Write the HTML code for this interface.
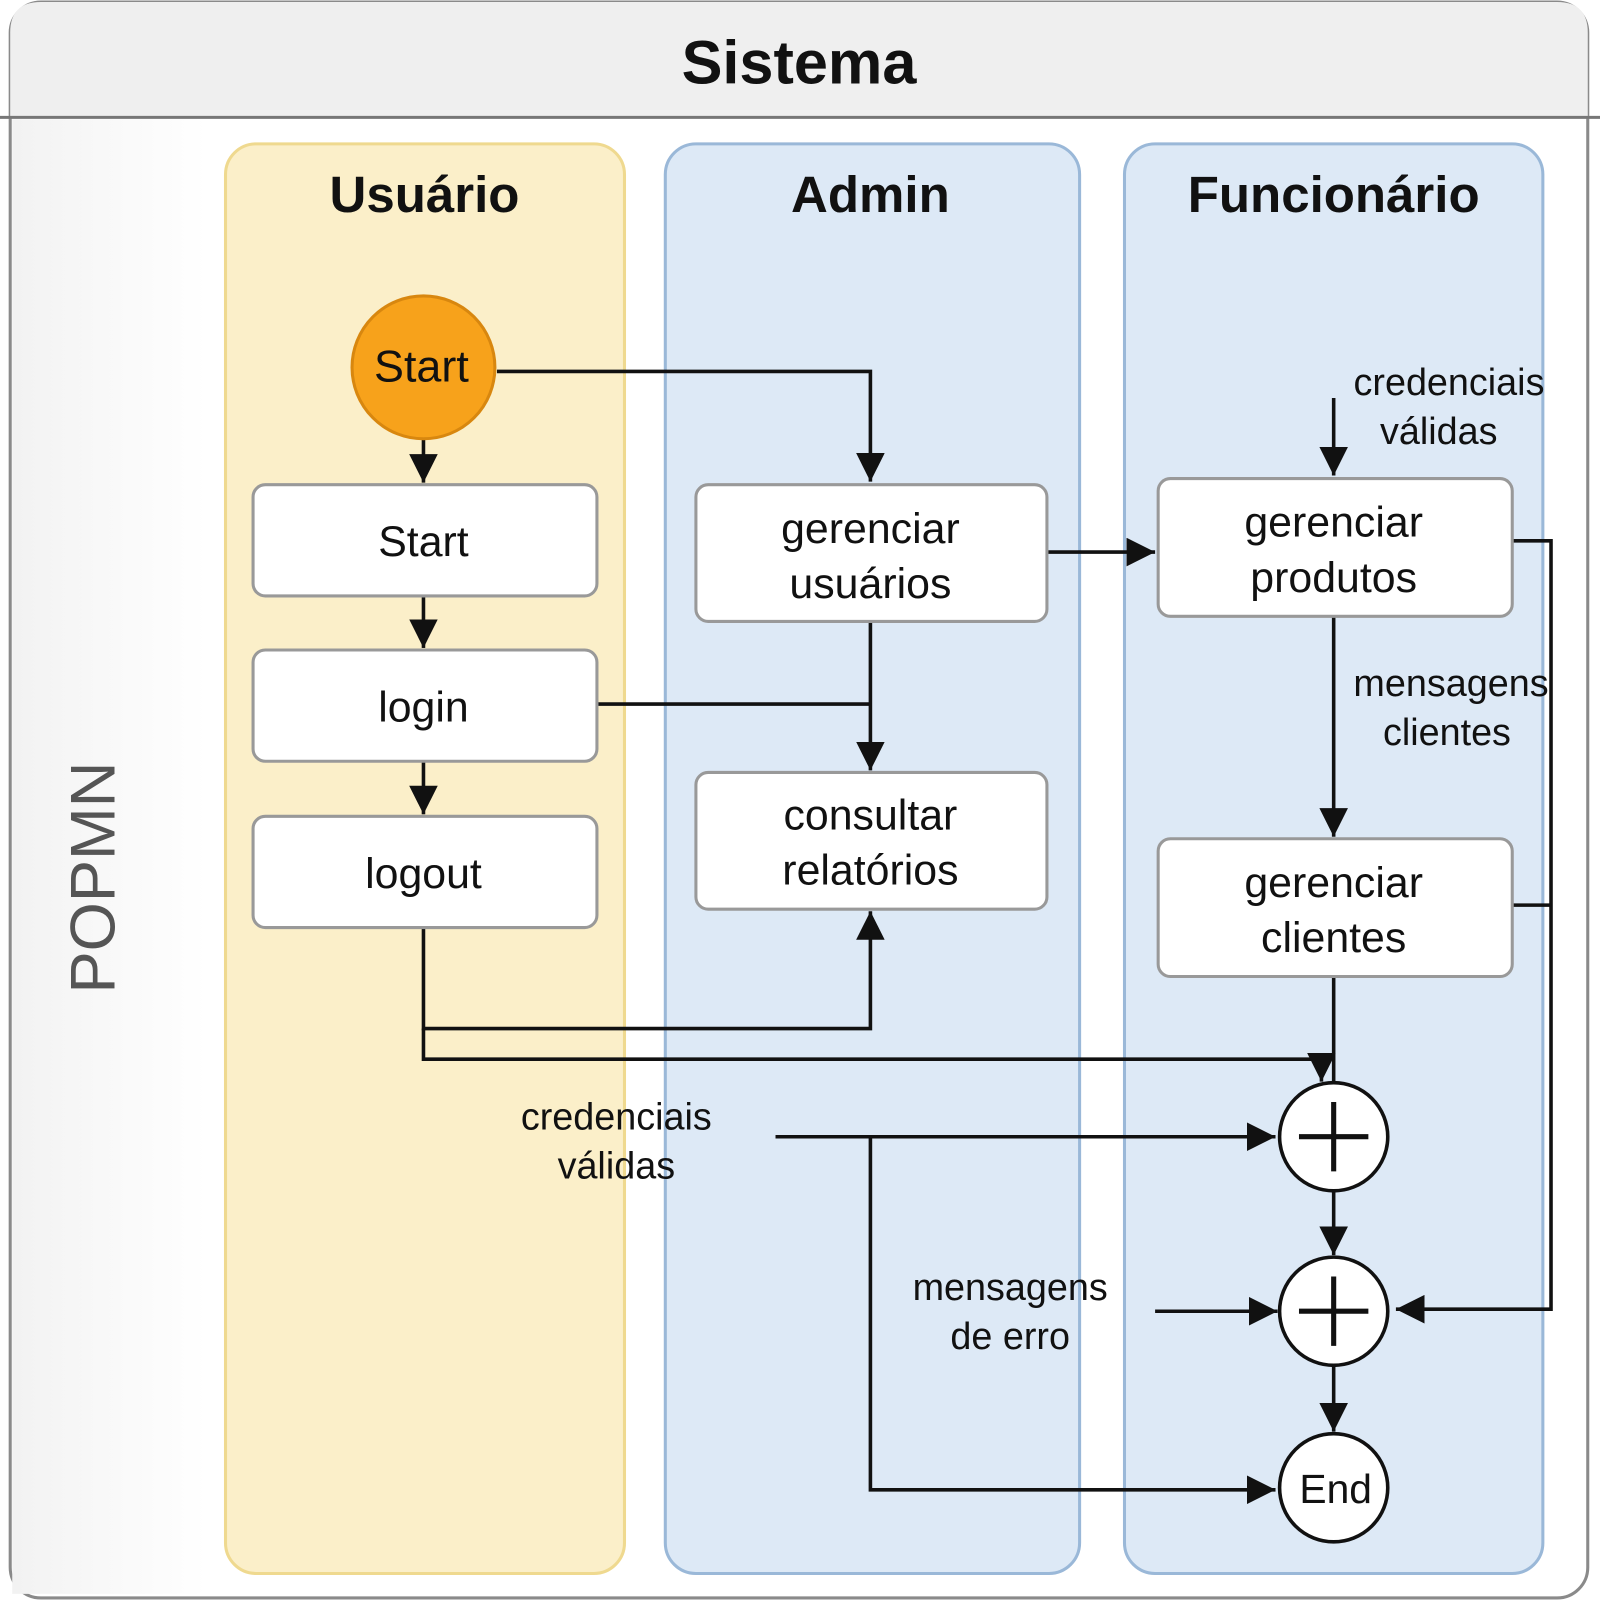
<!DOCTYPE html>
<html><head><meta charset="utf-8"><style>
html,body{margin:0;padding:0;background:#fff;}
svg{display:block;}
text{font-family:"Liberation Sans",sans-serif;}
</style></head><body>
<svg width="1600" height="1600" viewBox="0 0 1568 1568" xmlns="http://www.w3.org/2000/svg">
<defs>
<marker id="a" viewBox="0 0 10 10" refX="9" refY="5" markerWidth="9" markerHeight="9" markerUnits="userSpaceOnUse" orient="auto">
</marker>
<marker id="ah" viewBox="0 0 10 10" refX="10" refY="5" markerWidth="28" markerHeight="28" markerUnits="userSpaceOnUse" orient="auto"><path d="M0,0 L10,5 L0,10 z" fill="#111"/></marker>
<linearGradient id="lg" x1="0" x2="1"><stop offset="0" stop-color="#f2f2f2"/><stop offset="1" stop-color="#fff"/></linearGradient>
</defs>
<rect x="0" y="0" width="1568" height="1568" fill="#fff"/>
<rect x="10" y="2" width="1546" height="1564" rx="30" fill="#fff" stroke="#8a8a8a" stroke-width="3"/>
<path d="M10,115 L10,32 Q10,2 40,2 L1526,2 Q1556,2 1556,32 L1556,115 Z" fill="#efefef"/>
<line x1="0" y1="115" x2="1568" y2="115" stroke="#777" stroke-width="3"/>
<text x="783" y="82" font-size="60" font-weight="bold" text-anchor="middle" fill="#111">Sistema</text>
<rect x="12" y="117" width="190" height="1445" fill="url(#lg)"/>
<text transform="translate(112,860) rotate(-90)" font-size="62" text-anchor="middle" fill="#555">POPMN</text>

<rect x="221" y="141" width="391" height="1401" rx="30" fill="#fbefc9" stroke="#efd98f" stroke-width="3"/>
<rect x="652" y="141" width="406" height="1401" rx="30" fill="#dde9f6" stroke="#9ab8d8" stroke-width="3"/>
<rect x="1102" y="141" width="410" height="1401" rx="30" fill="#dde9f6" stroke="#9ab8d8" stroke-width="3"/>
<text x="416" y="208" font-size="50" font-weight="bold" text-anchor="middle" fill="#111">Usuário</text>
<text x="853" y="208" font-size="50" font-weight="bold" text-anchor="middle" fill="#111">Admin</text>
<text x="1307" y="208" font-size="50" font-weight="bold" text-anchor="middle" fill="#111">Funcionário</text>

<g stroke="#111" stroke-width="3.5" fill="none">
<path d="M487,364 L853,364 L853,472" marker-end="url(#ah)"/>
<path d="M415,430 L415,473" marker-end="url(#ah)"/>
<path d="M415,584 L415,635" marker-end="url(#ah)"/>
<path d="M415,746 L415,798" marker-end="url(#ah)"/>
<path d="M585,690 L853,690"/>
<path d="M853,609 L853,755" marker-end="url(#ah)"/>
<path d="M1026,541 L1132,541" marker-end="url(#ah)"/>
<path d="M1307,390 L1307,466" marker-end="url(#ah)"/>
<path d="M1307,604 L1307,820" marker-end="url(#ah)"/>
<path d="M1482,530 L1520,530 L1520,1283 L1368,1283" marker-end="url(#ah)"/>
<path d="M1482,887 L1520,887"/>
<path d="M415,909 L415,1008 L853,1008 L853,893" marker-end="url(#ah)"/>
<path d="M415,1008 L415,1038 L1295,1038 L1295,1060" marker-end="url(#ah)"/>
<path d="M1307,957 L1307,1061"/>
<path d="M760,1114 L1250,1114" marker-end="url(#ah)"/>
<path d="M853,1114 L853,1460 L1250,1460" marker-end="url(#ah)"/>
<path d="M1307,1167 L1307,1230" marker-end="url(#ah)"/>
<path d="M1132,1285 L1252,1285" marker-end="url(#ah)"/>
<path d="M1307,1338 L1307,1403" marker-end="url(#ah)"/>
</g>

<circle cx="415" cy="360" r="70" fill="#f7a21b" stroke="#d8870f" stroke-width="3"/>
<text x="413" y="374" font-size="44" text-anchor="middle" fill="#111">Start</text>

<g fill="#fff" stroke="#999" stroke-width="3">
<rect x="248" y="475" width="337" height="109" rx="12"/>
<rect x="248" y="637" width="337" height="109" rx="12"/>
<rect x="248" y="800" width="337" height="109" rx="12"/>
<rect x="682" y="475" width="344" height="134" rx="12"/>
<rect x="682" y="757" width="344" height="134" rx="12"/>
<rect x="1135" y="469" width="347" height="135" rx="12"/>
<rect x="1135" y="822" width="347" height="135" rx="12"/>
</g>
<g font-size="42" text-anchor="middle" fill="#111">
<text x="415" y="545">Start</text>
<text x="415" y="707">login</text>
<text x="415" y="870">logout</text>
<text x="853" y="532">gerenciar</text>
<text x="853" y="586">usuários</text>
<text x="853" y="813">consultar</text>
<text x="853" y="867">relatórios</text>
<text x="1307" y="526">gerenciar</text>
<text x="1307" y="580">produtos</text>
<text x="1307" y="879">gerenciar</text>
<text x="1307" y="933">clientes</text>
</g>
<g font-size="37" text-anchor="middle" fill="#111">
<text x="1420" y="387">credenciais</text>
<text x="1410" y="435">válidas</text>
<text x="1422" y="682">mensagens</text>
<text x="1418" y="730">clientes</text>
<text x="604" y="1107">credenciais</text>
<text x="604" y="1155">válidas</text>
<text x="990" y="1274">mensagens</text>
<text x="990" y="1322">de erro</text>
</g>

<g fill="#fff" stroke="#111" stroke-width="3.5">
<circle cx="1307" cy="1114" r="53"/>
<circle cx="1307" cy="1285" r="53"/>
<circle cx="1307" cy="1458" r="53"/>
</g>
<g stroke="#111" stroke-width="5">
<line x1="1273" y1="1114" x2="1341" y2="1114"/><line x1="1307" y1="1080" x2="1307" y2="1148"/>
<line x1="1273" y1="1285" x2="1341" y2="1285"/><line x1="1307" y1="1251" x2="1307" y2="1319"/>
</g>
<text x="1309" y="1473" font-size="40" text-anchor="middle" fill="#111">End</text>
</svg>
</body></html>
